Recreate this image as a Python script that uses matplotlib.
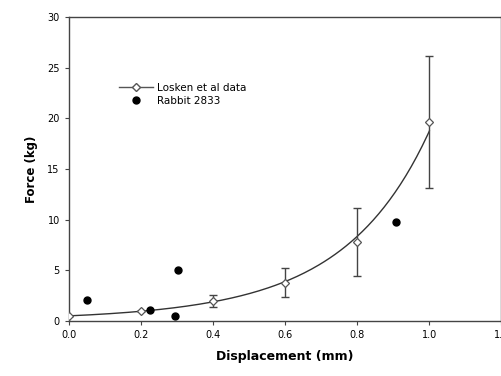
import numpy as np
import matplotlib
matplotlib.use('Agg')
import matplotlib.pyplot as plt

# Losken et al data (mean +- error)
losken_x = [0.0, 0.2, 0.4, 0.6, 0.8, 1.0]
losken_y = [0.5, 1.0, 2.0, 3.8, 7.8, 19.6]
losken_err = [0.0, 0.0, 0.6, 1.4, 3.4, 6.5]

# Rabbit 2833
rabbit_x = [0.05, 0.225, 0.295, 0.303, 0.907]
rabbit_y = [2.1, 1.1, 0.5, 5.0, 9.8]

fig = plt.figure(figsize=(5.02, 3.76), dpi=100)
ax = fig.add_axes([0.137, 0.146, 0.862, 0.809])

# smooth trend through the Losken points (quadratic fit in log space)
coef = np.polyfit(losken_x, np.log(losken_y), 2)
xs = np.linspace(0, 1.0, 200)
ax.plot(xs, np.exp(np.polyval(coef, xs)), color='#333333', lw=1.0, zorder=2)

ax.errorbar(losken_x, losken_y, yerr=losken_err, fmt='none', ecolor='#444444',
            elinewidth=1.0, capsize=3, capthick=1.0, zorder=2)
ax.plot(losken_x, losken_y, linestyle='none', marker='D', markersize=4,
        markerfacecolor='white', markeredgecolor='#555555', markeredgewidth=0.9, zorder=3)

ax.plot(rabbit_x, rabbit_y, linestyle='none', marker='o', markersize=5,
        color='black', zorder=4)

# legend handles
h1, = ax.plot([], [], color='#555555', lw=1.0, marker='D', markersize=4,
              markerfacecolor='white', markeredgecolor='#555555')
h2, = ax.plot([], [], linestyle='none', marker='o', markersize=5, color='black')
ax.legend([h1, h2], ['Losken et al data', 'Rabbit 2833'], loc='upper left',
          bbox_to_anchor=(0.095, 0.815), frameon=False, fontsize=7.5,
          handlelength=3.2, handletextpad=0.4, labelspacing=0.3)

ax.set_xlim(0, 1.2)
ax.set_ylim(0, 30)
ax.set_xticks([0.0, 0.2, 0.4, 0.6, 0.8, 1.0, 1.2])
ax.set_xticklabels(['0.0', '0.2', '0.4', '0.6', '0.8', '1.0', '1.2'])
ax.set_yticks([0, 5, 10, 15, 20, 25, 30])
ax.tick_params(labelsize=7, length=3, width=0.8, color='#444444')
for s in ax.spines.values():
    s.set_color('#444444')
    s.set_linewidth(1.0)

ax.set_xlabel('Displacement (mm)', fontsize=9, fontweight='bold', labelpad=7)
ax.set_ylabel('Force (kg)', fontsize=8.5, fontweight='bold', labelpad=7)

fig.savefig('out.png', dpi=100)
